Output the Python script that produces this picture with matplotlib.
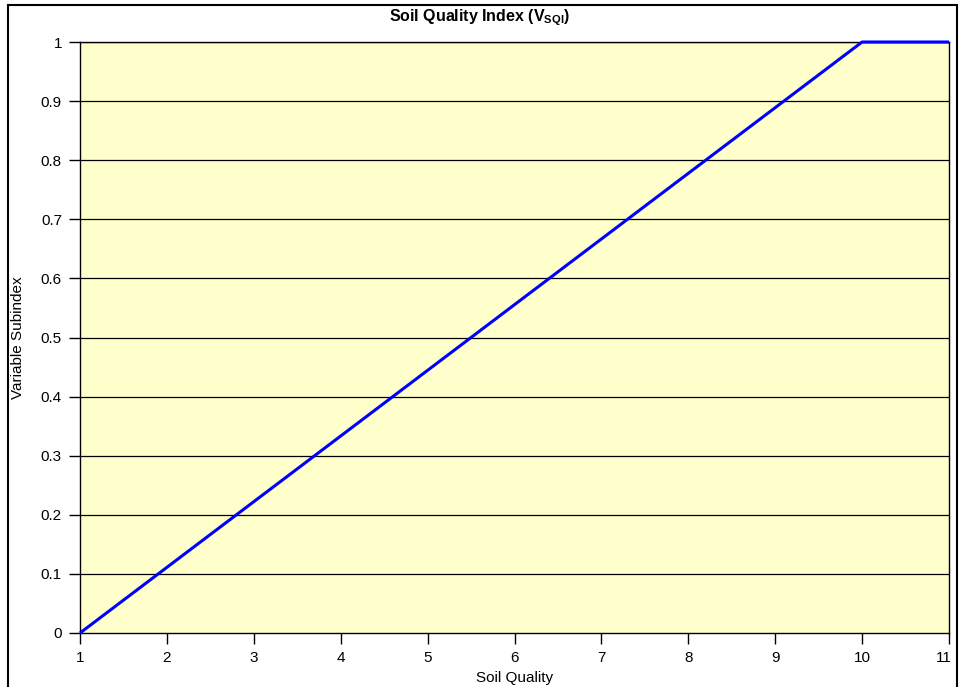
import matplotlib.pyplot as plt
from matplotlib.patches import Rectangle
from matplotlib.transforms import ScaledTranslation

plt.rcParams["font.family"] = ["Liberation Sans", "DejaVu Sans"]
plt.rcParams["mathtext.fontset"] = "custom"
plt.rcParams["mathtext.rm"] = "Liberation Sans"
plt.rcParams["mathtext.bf"] = "Liberation Sans:bold"

# data
soil_quality = [1, 10, 11]
subindex = [0, 1, 1]
x_ticks = list(range(1, 12))
y_ticks = [0, 0.1, 0.2, 0.3, 0.4, 0.5, 0.6, 0.7, 0.8, 0.9, 1]
y_labels = ["0", "0.1", "0.2", "0.3", "0.4", "0.5", "0.6", "0.7", "0.8", "0.9", "1"]

W, H = 959, 687
fig = plt.figure(figsize=(W / 100, H / 100), dpi=100)
ax = fig.add_axes([80 / W, 1 - 633 / H, 869 / W, 591 / H])
ax.set_facecolor("#FFFFCC")

# outer chart frame
fig.patches.append(Rectangle((8 / W, -0.05), (957 - 8) / W, 1.05 - 5 / H,
                             transform=fig.transFigure, fill=False,
                             edgecolor="black", linewidth=1.5))

for y in y_ticks[1:]:
    ax.axhline(y, color="black", linewidth=0.9, zorder=1)

ax.plot(soil_quality, subindex, color="#0000FF", linewidth=2.2, zorder=3,
        clip_on=False, solid_capstyle="butt")

ax.set_xlim(1, 11)
ax.set_ylim(0, 1)
ax.set_xticks(x_ticks)
ax.set_yticks(y_ticks)
ax.set_yticklabels(y_labels)
ax.tick_params(direction="out", length=8, width=1, labelsize=11, pad=5,
               colors="black")
# last x label shifted a little left to stay inside the frame
last = ax.get_xticklabels()[-1]
last.set_transform(last.get_transform()
                   + ScaledTranslation(-4 / 72, 0, fig.dpi_scale_trans))
for s in ax.spines.values():
    s.set_linewidth(1)
    s.set_color("black")

ax.set_xlabel("Soil Quality", fontsize=11)
ax.xaxis.set_label_coords(0.5, -0.064)
ax.set_ylabel("Variable Subindex", fontsize=11)
ax.yaxis.set_label_coords(-0.063, 0.5)

fig.text(0.5, 1 - 18 / H, r"Soil Quality Index (V$_{\mathbf{SQI}}$)",
         ha="center", va="center", fontsize=11.5, fontweight="bold")

fig.savefig("out.png", dpi=100)
